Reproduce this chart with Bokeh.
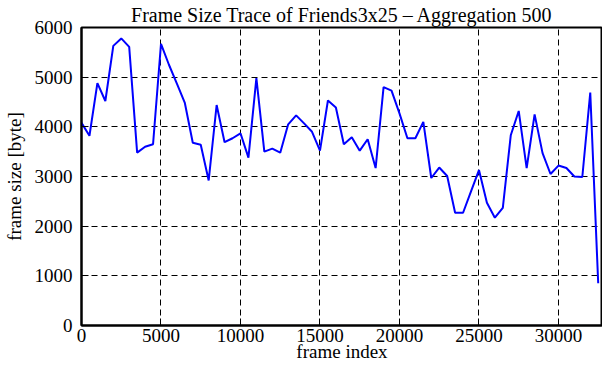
from bokeh.plotting import figure
from bokeh.models import LinearAxis, SingleIntervalTicker, Range1d, ColumnDataSource
from bokeh.embed import file_html
from bokeh.resources import INLINE

# ---- data ----
frame_index = list(range(0, 33000, 500))
frame_size = [4080, 3820, 4880, 4520, 5630, 5780, 5610, 3480, 3600, 3650,
              5670, 5250, 4870, 4480, 3680, 3640, 2920, 4440, 3690, 3770,
              3870, 3380, 4980, 3500, 3560, 3480, 4050, 4230, 4070, 3900,
              3520, 4530, 4390, 3650, 3790, 3520, 3750, 3170, 4800, 4730,
              4270, 3770, 3770, 4100, 2970, 3180, 3010, 2270, 2270, 2700,
              3130, 2470, 2170, 2370, 3830, 4320, 3170, 4250, 3470, 3050,
              3220, 3170, 3000, 2990, 4690, 850]
x_max = 32770
y_max = 6000
x_tick_step = 5000
y_tick_step = 1000
title_text = "Frame Size Trace of Friends3x25 \u2013 Aggregation 500"
x_label = "frame index"
y_label = "frame size [byte]"

FONT = "Liberation Serif"
FS = "19px"

src = ColumnDataSource(dict(x=frame_index, y=frame_size))

p = figure(frame_width=521, frame_height=298, output_backend="svg", toolbar_location=None,
           x_range=Range1d(0, x_max), y_range=Range1d(0, y_max),
           min_border_left=0, min_border_right=0, min_border_top=0,
           min_border_bottom=0, x_axis_location=None, y_axis_location=None,
           title=title_text)

p.title.text_font = FONT
p.title.text_font_size = "20px"
p.title.text_font_style = "normal"
p.title.text_color = "black"
p.title.align = "center"
p.title.standoff = 3

p.line("x", "y", source=src, line_color="#0000ff", line_width=2)

xt = SingleIntervalTicker(interval=x_tick_step, num_minor_ticks=0)
yt = SingleIntervalTicker(interval=y_tick_step, num_minor_ticks=0)

bottom = LinearAxis(ticker=xt, axis_label=x_label)
left = LinearAxis(ticker=yt, axis_label=y_label)

for ax in (bottom, left):
    ax.major_label_text_font = FONT
    ax.major_label_text_font_size = FS
    ax.major_label_text_color = "black"
    ax.axis_label_text_font = FONT
    ax.axis_label_text_font_size = FS
    ax.axis_label_text_font_style = "normal"
    ax.axis_label_text_color = "black"
    ax.major_tick_in = 7
    ax.major_tick_out = 0
    ax.major_tick_line_width = 1
    ax.major_tick_line_color = "black"
    ax.axis_line_width = 2
    ax.axis_line_color = "black"
bottom.major_label_standoff = 3
bottom.axis_label_standoff = -4
left.major_label_standoff = 9
left.axis_label_standoff = 7

p.add_layout(bottom, "below")
p.add_layout(left, "left")

p.xgrid.ticker = xt
p.ygrid.ticker = yt
for g in (p.xgrid, p.ygrid):
    g.grid_line_color = "black"
    g.grid_line_dash = "6 4"
    g.grid_line_width = 1

p.outline_line_color = "black"
p.outline_line_width = 2
p.outline_line_alpha = 1
p.background_fill_color = "white"
p.border_fill_color = "white"

open("out.html", "w").write(file_html(p, INLINE))
